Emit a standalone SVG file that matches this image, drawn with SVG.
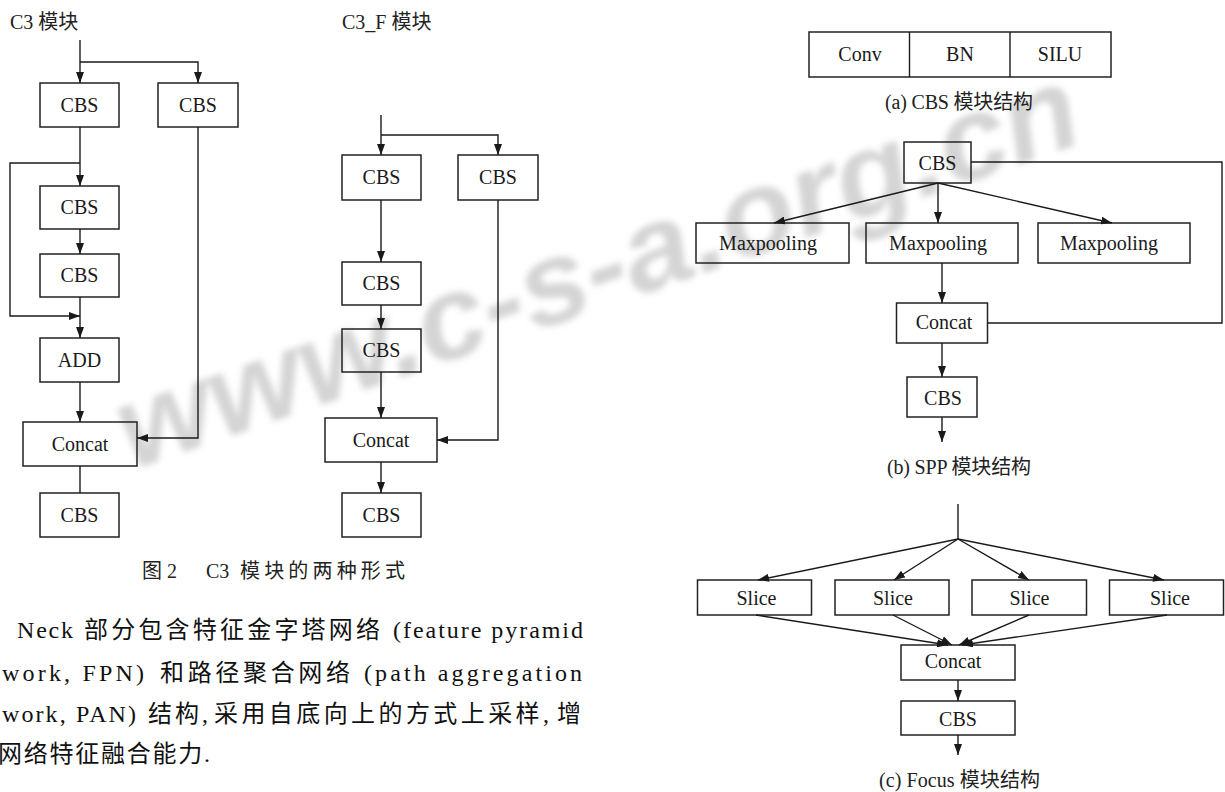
<svg xmlns="http://www.w3.org/2000/svg" width="1225" height="792" viewBox="0 0 1225 792">
<defs>
<marker id="ah" markerUnits="userSpaceOnUse" markerWidth="11" markerHeight="8" refX="11" refY="4" orient="auto">
<path d="M0,0 L11,4 L0,8 z" fill="#1a1a1a"/>
</marker>
<filter id="wmblur" x="-10%" y="-30%" width="120%" height="160%">
<feGaussianBlur stdDeviation="3"/>
</filter>
<style>
.box{fill:none;stroke:#222;stroke-width:1.5}
.lbl{font-family:"Liberation Serif","Noto Sans CJK SC",serif;font-size:20px;fill:#1a1a1a;text-anchor:middle}
.cap{font-family:"Liberation Serif","Noto Sans CJK SC",serif;font-size:20px;fill:#222}
.para{font-family:"Liberation Serif","Noto Sans CJK SC",serif;font-size:24px;fill:#111}
.ln{fill:none;stroke:#1a1a1a;stroke-width:1.4}
.arr{fill:none;stroke:#1a1a1a;stroke-width:1.4;marker-end:url(#ah)}
.wm{font-family:"Liberation Sans",sans-serif;font-weight:bold;font-style:italic;font-size:118px;fill:#c2c2c2}
</style>
</defs>
<rect width="1225" height="792" fill="#ffffff"/>

<g id="watermark" opacity="0.7" filter="url(#wmblur)">
<text class="wm" transform="translate(132,470) rotate(-19)" textLength="1010" lengthAdjust="spacingAndGlyphs">www.c-s-a.org.cn</text>
</g>

<g id="titles">
<text class="cap" x="10" y="29">C3 模块</text>
<text class="cap" x="342" y="29">C3_F 模块</text>
</g>

<g id="c3-cbs1"><rect class="box" x="40" y="83" width="79" height="44"/><text class="lbl" x="79.5" y="112">CBS</text></g>
<g id="c3-cbs-r"><rect class="box" x="158" y="83" width="80" height="44"/><text class="lbl" x="198" y="112">CBS</text></g>
<g id="c3-cbs2"><rect class="box" x="40" y="186" width="79" height="43"/><text class="lbl" x="79.5" y="214">CBS</text></g>
<g id="c3-cbs3"><rect class="box" x="40" y="254" width="79" height="43"/><text class="lbl" x="79.5" y="282">CBS</text></g>
<g id="c3-add"><rect class="box" x="40" y="338" width="79" height="44"/><text class="lbl" x="79.5" y="367">ADD</text></g>
<g id="c3-concat"><rect class="box" x="23" y="422" width="114" height="44"/><text class="lbl" x="80" y="451">Concat</text></g>
<g id="c3-cbs4"><rect class="box" x="40" y="493" width="79" height="44"/><text class="lbl" x="79.5" y="522">CBS</text></g>

<g id="f-cbs1"><rect class="box" x="342" y="155" width="79" height="45"/><text class="lbl" x="381.5" y="184">CBS</text></g>
<g id="f-cbs-r"><rect class="box" x="458" y="155" width="80" height="45"/><text class="lbl" x="498" y="184">CBS</text></g>
<g id="f-cbs2"><rect class="box" x="342" y="262" width="79" height="43"/><text class="lbl" x="381.5" y="290">CBS</text></g>
<g id="f-cbs3"><rect class="box" x="342" y="329" width="79" height="43"/><text class="lbl" x="381.5" y="357">CBS</text></g>
<g id="f-concat"><rect class="box" x="325" y="418" width="112" height="44"/><text class="lbl" x="381" y="447">Concat</text></g>
<g id="f-cbs4"><rect class="box" x="342" y="493" width="79" height="44"/><text class="lbl" x="381.5" y="522">CBS</text></g>

<g id="cbs-structure">
<rect class="box" x="809" y="32" width="302" height="45"/>
<line class="ln" x1="909.5" y1="32" x2="909.5" y2="77"/>
<line class="ln" x1="1010" y1="32" x2="1010" y2="77"/>
<text class="lbl" x="860" y="61">Conv</text>
<text class="lbl" x="960" y="61">BN</text>
<text class="lbl" x="1060" y="61">SILU</text>
</g>

<g id="spp-cbs"><rect class="box" x="904" y="142" width="67" height="41"/><text class="lbl" x="937.5" y="170">CBS</text></g>
<g id="spp-max1"><rect class="box" x="696" y="223" width="153" height="40"/><text class="lbl" x="768" y="250">Maxpooling</text></g>
<g id="spp-max2"><rect class="box" x="866" y="223" width="152" height="40"/><text class="lbl" x="938" y="250">Maxpooling</text></g>
<g id="spp-max3"><rect class="box" x="1038" y="223" width="152" height="40"/><text class="lbl" x="1109" y="250">Maxpooling</text></g>
<g id="spp-concat"><rect class="box" x="896.5" y="303" width="91" height="40"/><text class="lbl" x="944" y="329">Concat</text></g>
<g id="spp-cbs2"><rect class="box" x="907" y="377" width="70" height="40"/><text class="lbl" x="943" y="405">CBS</text></g>

<g id="focus-slice1"><rect class="box" x="697.5" y="580" width="114" height="35"/><text class="lbl" x="756.5" y="605">Slice</text></g>
<g id="focus-slice2"><rect class="box" x="835" y="580" width="114" height="35"/><text class="lbl" x="893" y="605">Slice</text></g>
<g id="focus-slice3"><rect class="box" x="972" y="580" width="114.5" height="35"/><text class="lbl" x="1029.5" y="605">Slice</text></g>
<g id="focus-slice4"><rect class="box" x="1109.5" y="580" width="114" height="35"/><text class="lbl" x="1170" y="605">Slice</text></g>
<g id="focus-concat"><rect class="box" x="901" y="645" width="114" height="35"/><text class="lbl" x="953" y="668">Concat</text></g>
<g id="focus-cbs"><rect class="box" x="901" y="701" width="114" height="34"/><text class="lbl" x="958" y="726">CBS</text></g>

<g id="connectors">
<path class="arr" d="M80,40 V83"/>
<path class="arr" d="M80,62 H198 V83"/>
<path class="arr" d="M80,127 V186"/>
<path class="arr" d="M80,163 H10 V316 H80"/>
<path class="arr" d="M80,229 V254"/>
<path class="arr" d="M80,297 V338"/>
<path class="arr" d="M80,382 V422"/>
<path class="arr" d="M198,127 V438 H137"/>
<path class="ln" d="M80,466 V493"/>
<path class="arr" d="M381,115 V155"/>
<path class="arr" d="M381,135 H498 V155"/>
<path class="arr" d="M381,200 V262"/>
<path class="arr" d="M381,305 V329"/>
<path class="arr" d="M381,372 V418"/>
<path class="arr" d="M498,200 V440 H437"/>
<path class="arr" d="M381,462 V493"/>
<path class="arr" d="M938,183 L774,223"/>
<path class="arr" d="M938,183 V223"/>
<path class="arr" d="M938,183 L1112,223"/>
<path class="arr" d="M942,263 V303"/>
<path class="ln" d="M971,162 H1222 V323 H987.5"/>
<path class="arr" d="M942,343 V377"/>
<path class="arr" d="M942,417 V442"/>
<path class="ln" d="M958,504 V539"/>
<path class="arr" d="M958,539 L758,580"/>
<path class="arr" d="M958,539 L894,580"/>
<path class="arr" d="M958,539 L1029,580"/>
<path class="arr" d="M958,539 L1164,580"/>
<path class="arr" d="M756,615 L948,645"/>
<path class="arr" d="M893,615 L952,645"/>
<path class="arr" d="M1029,615 L959,645"/>
<path class="arr" d="M1167,615 L962,645"/>
<path class="arr" d="M958,680 V701"/>
<path class="arr" d="M958,735 V755"/>
</g>

<g id="captions">
<text class="cap" x="885" y="109" textLength="148" lengthAdjust="spacing">(a) CBS 模块结构</text>
<text class="cap" x="887" y="474" textLength="144" lengthAdjust="spacing">(b) SPP 模块结构</text>
<text class="cap" x="879" y="787" textLength="161" lengthAdjust="spacing">(c) Focus 模块结构</text>
<text class="cap" x="142" y="578">图 2</text>
<text class="cap" x="206" y="578">C3</text>
<text class="cap" x="240" y="578" textLength="165" lengthAdjust="spacing">模块的两种形式</text>
</g>

<g id="paragraph">
<text class="para" x="17" y="638" textLength="56" lengthAdjust="spacing">Neck</text>
<text class="para" x="84" y="638" textLength="296" lengthAdjust="spacing">部分包含特征金字塔网络</text>
<text class="para" x="393" y="638" textLength="190" lengthAdjust="spacing">(feature pyramid</text>
<text class="para" x="2" y="681" textLength="142" lengthAdjust="spacing">work, FPN)</text>
<text class="para" x="160" y="681" textLength="190" lengthAdjust="spacing">和路径聚合网络</text>
<text class="para" x="364" y="681" textLength="218" lengthAdjust="spacing">(path aggregation</text>
<text class="para" x="2" y="722" textLength="134" lengthAdjust="spacing">work, PAN)</text>
<text class="para" x="148" y="722" textLength="60" lengthAdjust="spacing">结构,</text>
<text class="para" x="214" y="722" textLength="335" lengthAdjust="spacing">采用自底向上的方式上采样,</text>
<text class="para" x="557" y="722" textLength="25" lengthAdjust="spacing">增</text>
<text class="para" x="-2" y="762" textLength="212" lengthAdjust="spacing">网络特征融合能力.</text>
</g>
</svg>
